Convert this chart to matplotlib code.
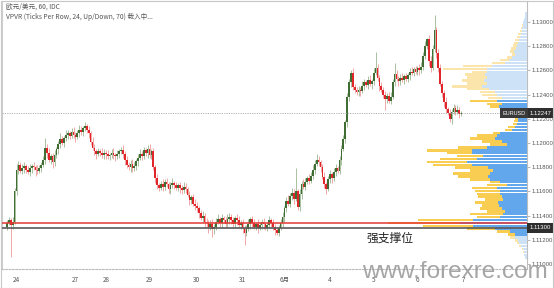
import matplotlib
matplotlib.use('Agg')
import matplotlib.pyplot as plt
import numpy as np
from matplotlib.patches import Rectangle
import matplotlib.transforms as mtransforms

plt.rcParams['font.family'] = ['Noto Sans CJK SC', 'DejaVu Sans']

# ---------------- data ----------------
first_open = 1.1131
close = [
    1.1134, 1.1136, 1.1132, 1.1135, 1.1160, 1.1178, 1.1182, 1.1177, 1.1179, 1.1181,
    1.1178, 1.1176, 1.1179, 1.1181, 1.1180, 1.1178, 1.1177, 1.1179, 1.1182, 1.1186,
    1.1196, 1.1192, 1.1186, 1.1189, 1.1184, 1.1190, 1.1195, 1.1199, 1.1203, 1.1200,
    1.1204, 1.1207, 1.1208, 1.1206, 1.1209, 1.1207, 1.1205, 1.1208, 1.1211, 1.1209,
    1.1212, 1.1214, 1.1211, 1.1208, 1.1201, 1.1196, 1.1193, 1.1191, 1.1193, 1.1192,
    1.1190, 1.1192, 1.1191, 1.1189, 1.1190, 1.1192, 1.1190, 1.1189, 1.1191, 1.1193,
    1.1194, 1.1191, 1.1186, 1.1182, 1.1180, 1.1183, 1.1179, 1.1181, 1.1185, 1.1188,
    1.1191, 1.1189, 1.1194, 1.1192, 1.1195, 1.1190, 1.1193, 1.1180, 1.1171, 1.1165,
    1.1163, 1.1166, 1.1164, 1.1168, 1.1166, 1.1162, 1.1165, 1.1167, 1.1165, 1.1163,
    1.1165, 1.1163, 1.1161, 1.1164, 1.1162, 1.1157, 1.1153, 1.1155, 1.1150, 1.1148,
    1.1146, 1.1142, 1.1138, 1.1140, 1.1135, 1.1134, 1.1131, 1.1133, 1.1129, 1.1131,
    1.1135, 1.1137, 1.1134, 1.1138, 1.1136, 1.1133, 1.1137, 1.1139, 1.1136, 1.1133,
    1.1138, 1.1136, 1.1132, 1.1134, 1.1130, 1.1126, 1.1129, 1.1133, 1.1137, 1.1134,
    1.1131, 1.1133, 1.1130, 1.1132, 1.1135, 1.1133, 1.1130, 1.1132, 1.1136, 1.1134,
    1.1131, 1.1128, 1.1126, 1.1130, 1.1134, 1.1139, 1.1146, 1.1152, 1.1150, 1.1156,
    1.1159, 1.1154, 1.1160, 1.1147, 1.1158, 1.1166, 1.1164, 1.1168, 1.1171, 1.1169,
    1.1173, 1.1178, 1.1183, 1.1186, 1.1184, 1.1180, 1.1172, 1.1166, 1.1162, 1.1170,
    1.1174, 1.1171, 1.1176, 1.1179, 1.1177, 1.1186, 1.1195, 1.1203, 1.1217, 1.1238,
    1.1250, 1.1258, 1.1246, 1.1244, 1.1242, 1.1244, 1.1243, 1.1247, 1.1250, 1.1248,
    1.1252, 1.1249, 1.1251, 1.1258, 1.1262, 1.1254, 1.1247, 1.1244, 1.1240, 1.1236,
    1.1239, 1.1235, 1.1238, 1.1250, 1.1257, 1.1253, 1.1251, 1.1254, 1.1252, 1.1255,
    1.1253, 1.1256, 1.1259, 1.1258, 1.1261, 1.1259, 1.1262, 1.1260, 1.1263, 1.1272,
    1.1280, 1.1286, 1.1268, 1.1262, 1.1278, 1.1293, 1.1274, 1.1262, 1.1249, 1.1241,
    1.1234, 1.1228, 1.1225, 1.1220, 1.1226, 1.1229, 1.1226, 1.1227, 1.1224, 1.12247,
]
# wick lengths in pips (0.0001)
upper_wick = [
    2, 3, 2, 4, 3, 5, 3, 2, 4, 3, 2, 3, 4, 2, 3, 2, 4, 3, 2, 3,
    8, 3, 4, 2, 3, 4, 2, 3, 5, 3, 2, 4, 3, 2, 3, 4, 2, 3, 4, 3,
    2, 3, 2, 3, 2, 4, 3, 2, 3, 2, 4, 3, 2, 3, 2, 3, 4, 2, 3, 2,
    3, 4, 2, 3, 2, 3, 4, 3, 2, 3, 4, 2, 3, 2, 3, 4, 2, 3, 2, 3,
    2, 3, 4, 2, 3, 2, 3, 4, 2, 3, 2, 3, 2, 4, 3, 2, 3, 2, 3, 4,
    3, 2, 3, 4, 2, 3, 2, 3, 4, 2, 3, 4, 2, 3, 2, 3, 4, 3, 2, 3,
    2, 3, 4, 2, 3, 2, 3, 4, 2, 3, 3, 2, 4, 3, 2, 3, 2, 3, 4, 2,
    3, 2, 3, 2, 3, 4, 2, 3, 5, 3, 4, 3, 19, 2, 4, 3, 4, 3, 2, 3,
    3, 4, 3, 5, 3, 2, 3, 4, 2, 3, 4, 2, 3, 4, 2, 3, 3, 4, 2, 3,
    3, 2, 4, 3, 2, 3, 2, 4, 3, 2, 3, 4, 2, 4, 13, 3, 2, 3, 2, 3,
    2, 3, 4, 3, 9, 3, 2, 3, 4, 2, 3, 2, 3, 4, 2, 3, 2, 3, 4, 3,
    4, 1, 3, 4, 3, 13, 3, 4, 3, 2, 3, 4, 2, 3, 2, 3, 2, 4, 3, 2,
]
lower_wick = [
    3, 2, 26, 3, 2, 3, 4, 2, 3, 4, 3, 2, 3, 4, 2, 5, 3, 2, 3, 2,
    3, 4, 2, 3, 5, 3, 2, 4, 3, 2, 3, 2, 4, 3, 2, 3, 4, 2, 3, 2,
    3, 2, 3, 4, 3, 2, 3, 4, 2, 3, 2, 3, 4, 2, 3, 2, 3, 4, 2, 3,
    2, 3, 4, 3, 2, 4, 3, 2, 3, 4, 2, 3, 2, 3, 4, 2, 3, 2, 4, 3,
    3, 2, 4, 3, 2, 3, 4, 2, 3, 2, 3, 4, 3, 2, 3, 2, 4, 3, 2, 3,
    3, 4, 2, 3, 4, 3, 5, 3, 7, 4, 3, 2, 3, 4, 2, 3, 2, 4, 3, 2,
    3, 4, 2, 3, 4, 10, 3, 2, 4, 3, 2, 3, 4, 2, 3, 4, 2, 3, 2, 3,
    3, 4, 2, 3, 2, 3, 4, 3, 2, 3, 3, 4, 2, 2, 3, 4, 2, 3, 2, 3,
    2, 3, 4, 2, 3, 4, 2, 3, 4, 2, 3, 4, 2, 3, 2, 3, 4, 2, 3, 4,
    3, 4, 2, 3, 2, 3, 4, 2, 3, 2, 3, 2, 4, 3, 2, 3, 4, 2, 3, 9,
    3, 2, 3, 2, 3, 2, 4, 3, 2, 3, 2, 3, 4, 2, 3, 2, 3, 4, 2, 3,
    3, 2, 4, 3, 2, 3, 4, 3, 2, 3, 4, 3, 2, 3, 4, 2, 3, 2, 3, 2,
]

date_ticks = [5, 36, 52, 75, 99.5, 124, 146, 170, 193, 216, 240]
date_labels = ['24', '27', '28', '29', '30', '31', '6月', '4', '5', '6', '7']

price_ticks = [1.110, 1.112, 1.114, 1.116, 1.118, 1.120, 1.122, 1.124, 1.126, 1.128, 1.130]

# Volume profile (rows from top to bottom), 24 ticks per row
vp_top_center = 1.13068
vp_row = 0.00024
vp_total = [2, 2, 3, 4, 5, 6, 7, 9, 10, 12, 13, 14, 16, 17, 15, 20, 27, 35, 64, 84,
            55, 62, 60, 65, 60, 75, 60, 47, 45, 39, 57, 40, 37, 27, 20, 14, 12, 13, 14, 19,
            22, 34, 50, 57, 45, 37, 69, 100, 80, 70, 87, 100, 94, 72, 57, 74, 69, 57, 37, 40,
            55, 52, 50, 49, 42, 52, 45, 47, 40, 57, 50, 109, 139, 104, 60, 30, 19, 17, 12, 10,
            8, 5, 4, 3, 2]
vp_up = [2, 2, 3, 4, 4, 5, 5, 6, 7, 8, 9, 10, 11, 13, 12, 15, 18, 22, 35, 40,
         40, 42, 40, 43, 40, 45, 38, 32, 30, 25, 30, 25, 28, 20, 15, 10, 9, 9, 10, 12,
         15, 27, 30, 32, 25, 20, 40, 55, 55, 44, 50, 60, 55, 39, 34, 37, 39, 37, 27, 20,
         30, 27, 27, 25, 24, 29, 28, 25, 22, 24, 27, 54, 67, 54, 32, 17, 12, 12, 9, 8,
         6, 4, 3, 3, 2]
value_area = (30, 76)   # row indices inside the value area

last_price = 1.12247
support_price = 1.11300
red_line_price = 1.11341

# ---------------- layout ----------------
W, H = 554, 288
fig = plt.figure(figsize=(W / 100, H / 100), dpi=100)
fig.patch.set_facecolor('white')
Lpx, Rpx, Tpx, Bpx = 2, 527, 1, 269
ax = fig.add_axes([Lpx / W, 1 - Bpx / H, (Rpx - Lpx) / W, (Bpx - Tpx) / H])
ppb = 1.9            # px per bar
bar0 = 7             # px of bar 0
ax.set_xlim((Lpx - bar0) / ppb, (Rpx - bar0) / ppb)
ax.set_ylim(1.10959, 1.13173)

# candles
c = np.array(close)
n = len(c)
xs = np.arange(n)
o = np.concatenate([[first_open], c[:-1]])
top = np.maximum(o, c)
bot = np.minimum(o, c)
hi = top + np.array(upper_wick) * 1e-4
lo = bot - np.array(lower_wick) * 1e-4
up = c >= o
ax.vlines(xs[up], lo[up], hi[up], color='#a9c0a0', lw=0.7, zorder=2)
ax.vlines(xs[~up], lo[~up], hi[~up], color='#f0a8a8', lw=0.7, zorder=2)
hgt = np.maximum(top - bot, 0.00004)
ax.bar(xs[up], hgt[up], bottom=bot[up], width=0.85, color='#3f6d33', lw=0, zorder=3)
ax.bar(xs[~up], hgt[~up], bottom=bot[~up], width=0.85, color='#e0262a', lw=0, zorder=3)

# axes styling
for s in ['top', 'left']:
    ax.spines[s].set_color('#cfcfcf')
    ax.spines[s].set_linewidth(0.8)
ax.spines['right'].set_color('#bdbdbd')
ax.spines['right'].set_linewidth(0.8)
ax.spines['bottom'].set_color('#bbbbbb')
ax.spines['bottom'].set_linestyle((0, (1.5, 1.5)))
ax.spines['bottom'].set_linewidth(0.8)

ax.yaxis.tick_right()
ax.set_yticks(price_ticks)
ax.set_yticklabels(['%.5f' % p for p in price_ticks], fontsize=4.3, color='#555555',
                   family='Liberation Sans')
ax.tick_params(axis='y', length=2, width=0.5, color='#999999', pad=1)
ax.set_xticks(date_ticks)
ax.set_xticklabels(date_labels, fontsize=4.6, color='#555555')
ax.tick_params(axis='x', length=0, pad=5)

# volume profile on a twin axis (px units growing from the right)
ax2 = ax.twiny()
ax2.set_xlim(Rpx - Lpx, 0)
ax2.set_xticks([])
for s in ax2.spines.values():
    s.set_visible(False)
tot = np.array(vp_total, dtype=float)
upv = np.array(vp_up, dtype=float)
centers = vp_top_center - np.arange(len(tot)) * vp_row
inva = (np.arange(len(tot)) >= value_area[0]) & (np.arange(len(tot)) <= value_area[1])
blue_c = np.where(inva, '#62a6ec', '#cde2f7')
yel_c = np.where(inva, '#f8cd52', '#fce5ab')
rh = vp_row * 0.86
ax2.barh(centers, upv, left=0, height=rh, color=blue_c, lw=0, zorder=2)
ax2.barh(centers, tot - upv, left=upv, height=rh, color=yel_c, lw=0, zorder=2)

# horizontal lines
ax2.axhline(last_price, color='#b0b0b0', lw=0.7, ls=(0, (1.2, 1.2)), zorder=4)
ax2.axhline(red_line_price, color='#e53935', lw=1.3, alpha=0.85, zorder=4)
ax2.axhline(support_price, color='#5a5a5a', lw=1.2, zorder=4)

# price label boxes
trans = mtransforms.blended_transform_factory(ax.transAxes, ax.transData)
ax2.text(1.004, last_price, '1.12247', transform=trans, fontsize=4.3, color='white',
         family='Liberation Sans', ha='left', va='center', clip_on=False, zorder=10,
         bbox=dict(boxstyle='square,pad=0.4', fc='#2e2e2e', ec='none'))
ax2.text(0.997, last_price, 'EURUSD', transform=trans, fontsize=4.0, color='white',
         family='Liberation Sans', ha='right', va='center', clip_on=False, zorder=10,
         bbox=dict(boxstyle='square,pad=0.4', fc='#3a3a3a', ec='none'))
ax2.text(1.004, support_price, '1.11300', transform=trans, fontsize=4.3, color='white',
         family='Liberation Sans', ha='left', va='center', clip_on=False, zorder=10,
         bbox=dict(boxstyle='square,pad=0.4', fc='#2e2e2e', ec='none'))

# texts
fig.text(6 / W, 1 - 7 / H, '欧元/美元, 60, IDC', fontsize=4.8, color='#555555',
         va='center', ha='left')
fig.text(6 / W, 1 - 17 / H, 'VPVR (Ticks Per Row, 24, Up/Down, 70) 载入中...', fontsize=4.8,
         color='#555555', va='center', ha='left')
fig.text(390 / W, 1 - 238 / H, '强支撑位', fontsize=8.5, color='#222222',
         va='center', ha='center')
fig.text(455 / W, 1 - 272 / H, 'www.forexre.com', fontsize=17.5, color='#9c9c9c',
         family='Liberation Sans', va='center', ha='center', alpha=0.9, zorder=20)

# outer frame
fig.patches.append(Rectangle((0.5 / W, 0.5 / H), 1 - 1.5 / W, 1 - 1.5 / H,
                             transform=fig.transFigure, fill=False, ec='#c8c8c8', lw=0.8))

fig.savefig('out.png', dpi=100)
